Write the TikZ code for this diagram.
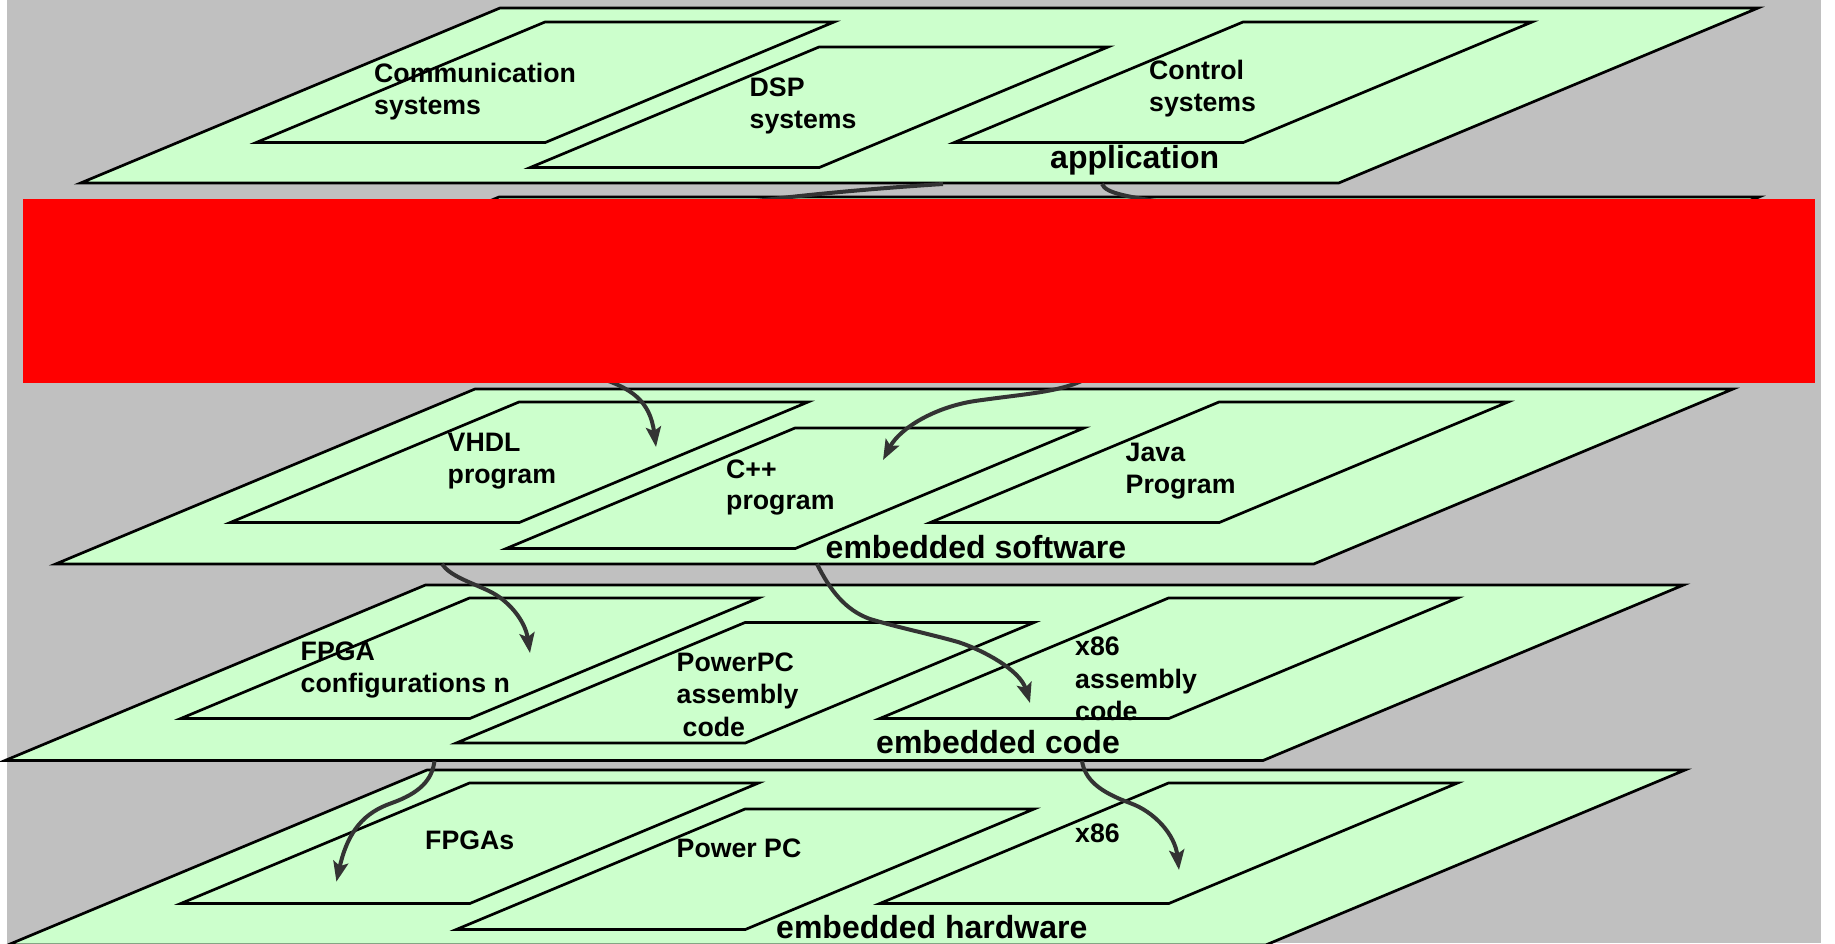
\documentclass[tikz,border=0pt]{standalone}
\usepackage{fontspec}
\setmainfont{Liberation Sans}
\usetikzlibrary{arrows.meta}
\definecolor{planegreen}{HTML}{CCFFCC}
\definecolor{bggray}{HTML}{C0C0C0}
\definecolor{arrowgray}{HTML}{333333}
\definecolor{redact}{HTML}{FF0000}
\newcommand{\myplane}[5]{\draw[plane] (#2,#3) coordinate (#1-tl) -- ++(#4,0) coordinate (#1-tr) -- ++(-2.396*#5,#5) coordinate (#1-br) -- ++(-#4,0) coordinate (#1-bl) -- cycle;}
\begin{document}
\begin{tikzpicture}[x=1pt,y=-1pt,
  plane/.style={fill=planegreen,draw=black,line width=2.7pt,line join=miter},
  lbl/.style={anchor=base west,inner sep=0pt,font=\fontsize{26.7}{31}\selectfont\bfseries},
  lyr/.style={anchor=base west,inner sep=0pt,font=\fontsize{32}{38}\selectfont\bfseries},
  connline/.style={draw=arrowgray,line width=4pt},
  conn/.style={connline,-{Stealth[length=20pt,width=15pt,inset=4pt]}}]
\useasboundingbox (0,0) rectangle (1835,943);
\fill[white] (0,0) rectangle (1835,943);
\fill[bggray] (7,0) rectangle (1821,943);
% application layer
\myplane{app}{500}{8}{1258}{175}
\myplane{comm}{545}{22}{289}{120.5}
\myplane{dsp}{819}{47}{289}{120.5}
\myplane{ctrl}{1243}{22}{289}{120.5}
% hidden layer
\myplane{hid}{499}{197}{1260}{175}
% embedded software
\myplane{sw}{475}{389}{1258}{175}
\myplane{vhdl}{519}{402}{289}{120.5}
\myplane{cpp}{795}{428}{289}{120.5}
\myplane{java}{1219}{402}{289}{120.5}
% embedded code
\myplane{code}{425.5}{585}{1258}{175.5}
\myplane{fpgacfg}{469.5}{598}{289}{120.5}
\myplane{ppcasm}{745}{622.5}{289}{120.5}
\myplane{xasm}{1168.5}{598}{289}{120.5}
% embedded hardware
\myplane{hw}{427}{770}{1258}{175}
\myplane{fpgas}{469.5}{783}{289}{120.5}
\myplane{ppc}{745}{809}{289}{120.5}
\myplane{xhw}{1168.5}{783}{289}{120.5}
% labels
\node[lbl] (tComm1) at (374,82) {Communication};
\node[lbl] (tComm2) at (374,114.5) {systems};
\node[lbl] (tDsp1) at (749.5,96) {DSP};
\node[lbl] (tDsp2) at (749.5,128.5) {systems};
\node[lbl] (tCtrl1) at (1149,79) {Control};
\node[lbl] (tCtrl2) at (1149,111.5) {systems};
\node[lyr] (tApp) at (1050,168) {application};
\node[lbl] (tVhdl1) at (447.5,451) {VHDL};
\node[lbl] (tVhdl2) at (447.5,483.5) {program};
\node[lbl] (tCpp1) at (726,478) {C++};
\node[lbl] (tCpp2) at (726,509.5) {program};
\node[lbl] (tJava1) at (1125.5,461) {Java};
\node[lbl] (tJava2) at (1125.5,493.5) {Program};
\node[lyr] (tSw) at (825.5,558) {embedded software};
\node[lbl] (tFc1) at (300.5,660) {FPGA};
\node[lbl] (tFc2) at (300.5,692) {configurations n};
\node[lbl] (tPa1) at (676.5,671) {PowerPC};
\node[lbl] (tPa2) at (676.5,703.5) {assembly};
\node[lbl] (tPa3) at (682.5,736) {code};
\node[lbl] (tXa1) at (1075,655.5) {x86};
\node[lbl] (tXa2) at (1075,688) {assembly};
\node[lbl] (tXa3) at (1075,720) {code};
\node[lyr] (tCode) at (876,753) {embedded code};
\node[lbl] (tFpgas) at (425,849) {FPGAs};
\node[lbl] (tPpc) at (676.5,857) {Power PC};
\node[lbl] (tXhw) at (1075,842) {x86};
\node[lyr] (tHw) at (776,938.5) {embedded hardware};
% connector end points
\coordinate (aS) at (943,184);
\coordinate (aE) at (740,203);
\coordinate (bS) at (1102,184);
\coordinate (bE) at (1175,204);
\coordinate (cS) at (600,378);
\coordinate (cT) at (656,447);
\coordinate (dS) at (1095,373);
\coordinate (dT) at (883,460);
\coordinate (eS) at (442,564);
\coordinate (eT) at (530,653);
\coordinate (fS) at (817,564);
\coordinate (fT) at (1030,703);
\coordinate (gS) at (434.5,761);
\coordinate (gT) at (336.4,881.7);
\coordinate (hS) at (1082,761);
\coordinate (hT) at (1179,870);
% connectors
\draw[connline] (aS) .. controls (880,188) and (810,194) .. (aE);
\draw[connline] (bS) .. controls (1106,194) and (1130,197) .. (bE);
\draw[conn] (cS) .. controls (630,388) and (650,400) .. (cT);
\draw[conn] (dS) .. controls (1070,392) and (1030,393) .. (975,401) .. controls (935,407) and (900,428) .. (dT);
\draw[conn] (eS) .. controls (450,576) and (470,582) .. (489,591) .. controls (508,600) and (525,620) .. (eT);
\draw[conn] (fS) .. controls (830,590) and (845,610) .. (870,619) .. controls (900,628) and (930,634) .. (958,642) .. controls (983,650) and (1020,670) .. (fT);
\draw[conn] (gS) .. controls (432,780) and (420,793) .. (391,803.3) .. controls (365,812.5) and (348,830) .. (gT);
\draw[conn] (hS) .. controls (1085,780) and (1100,792) .. (1130,803) .. controls (1155,812) and (1175,835) .. (hT);
% red block
\fill[redact] (22.5,198.5) rectangle (1815,383);
\end{tikzpicture}
\end{document}
